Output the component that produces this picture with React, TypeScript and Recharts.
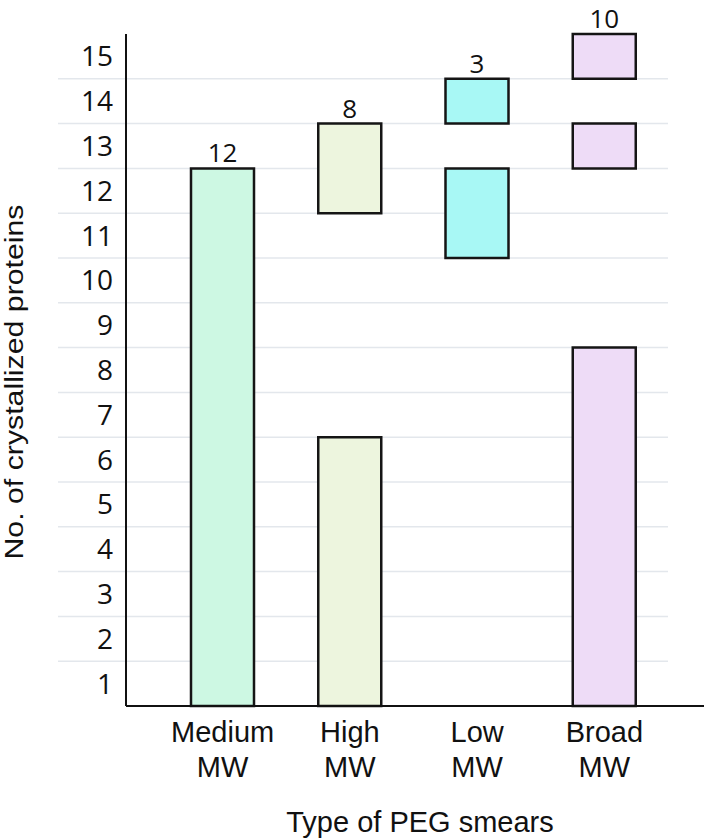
import { BarChart, Bar, XAxis, YAxis, CartesianGrid, Cell, LabelList } from 'recharts';

const categories = ['Medium MW', 'High MW', 'Low MW', 'Broad MW'];
const totals = [12, 8, 3, 10];
// each category is drawn as up to three floating boxes [from, to]
const firstBox = [[0, 12], [0, 6], [10, 12], [0, 8]];
const secondBox = [null, [11, 13], [13, 14], [12, 13]];
const thirdBox = [null, null, null, [14, 15]];
const yTickLabels = [1, 2, 3, 4, 5, 6, 7, 8, 9, 10, 11, 12, 13, 14, 15];
const colors = ['#cdf8e3', '#edf5de', '#a8f8f5', '#eedcf7'];

const boxes = [firstBox, secondBox, thirdBox];

const data = categories.map((name, i) => {
  const row: Record<string, any> = { name };
  let prev = 0;
  let top = 0;
  boxes.forEach((list, k) => {
    const b = list[i];
    if (!b) return;
    row[`gap${k}`] = b[0] - prev;
    row[`box${k}`] = b[1] - b[0];
    prev = b[1];
    top = k;
  });
  row[`label${top}`] = totals[i];
  return row;
});

const labelFont = '"Open Sans", "Noto Sans", sans-serif';
const arial = '"Liberation Sans", Arial, sans-serif';

function XTick({ x, y, payload }: any) {
  const [first, second] = String(payload.value).split(' ');
  return (
    <text x={x} y={y} textAnchor="middle" fontFamily={arial} fontSize={29} fill="#111">
      <tspan x={x} dy={36}>{first}</tspan>
      <tspan x={x} dy={35}>{second}</tspan>
    </text>
  );
}

function YTitle({ viewBox }: any) {
  const cy = viewBox.y + viewBox.height / 2 + 12;
  return (
    <text
      transform={`translate(23, ${cy}) rotate(-90)`}
      textAnchor="middle"
      fontFamily={arial}
      fontSize={26}
      textLength={355}
      lengthAdjust="spacingAndGlyphs"
      fill="#111"
    >
      No. of crystallized proteins
    </text>
  );
}

export default function App() {
  return (
    <div style={{ width: 706, height: 839, background: '#fff', fontFamily: arial }}>
      <style>{'body{margin:0}'}</style>
      <BarChart
        width={706}
        height={839}
        data={data}
        margin={{ top: 34, right: 2, bottom: 0, left: 58 }}
      >
        <CartesianGrid
          vertical={false}
          horizontalValues={yTickLabels.slice(0, 14)}
          horizontal={(p: any) => (
            <line
              key={p.key}
              x1={p.x1 - 68}
              x2={p.x2 - 36}
              y1={p.y1}
              y2={p.y2}
              stroke="#e3e7ec"
              strokeWidth={1.5}
            />
          )}
        />
        <XAxis
          dataKey="name"
          height={133}
          tickLine={false}
          tickSize={0}
          tickMargin={0}
          axisLine={{ stroke: '#111', strokeWidth: 2 }}
          padding={{ left: 33, right: 36 }}
          tick={<XTick />}
          interval={0}
          label={{
            value: 'Type of PEG smears',
            position: 'insideBottom',
            offset: 7,
            dx: 5,
            fontFamily: arial,
            fontSize: 29,
            fill: '#111',
          }}
        />
        <YAxis
          type="number"
          domain={[0, 15]}
          width={68}
          ticks={yTickLabels.map((v) => v - 0.5)}
          tickFormatter={(v: number) => String(v + 0.5)}
          tickLine={false}
          tickSize={0}
          tickMargin={13}
          interval={0}
          axisLine={{ stroke: '#111', strokeWidth: 2 }}
          tick={{ fontFamily: labelFont, fontSize: 28, fill: '#111' }}
          label={<YTitle />}
        />
        {boxes.map((_, k) => [
          <Bar
            key={`gap${k}`}
            dataKey={`gap${k}`}
            stackId="s"
            fill="none"
            barSize={63}
            isAnimationActive={false}
          />,
          <Bar
            key={`box${k}`}
            dataKey={`box${k}`}
            stackId="s"
            barSize={63}
            stroke="#151515"
            strokeWidth={2.5}
            isAnimationActive={false}
          >
            {data.map((_, i) => (
              <Cell key={i} fill={colors[i]} />
            ))}
            <LabelList
              dataKey={`label${k}`}
              position="top"
              offset={6}
              fontFamily={labelFont}
              fontSize={26}
              fill="#111"
            />
          </Bar>,
        ])}
      </BarChart>
    </div>
  );
}
